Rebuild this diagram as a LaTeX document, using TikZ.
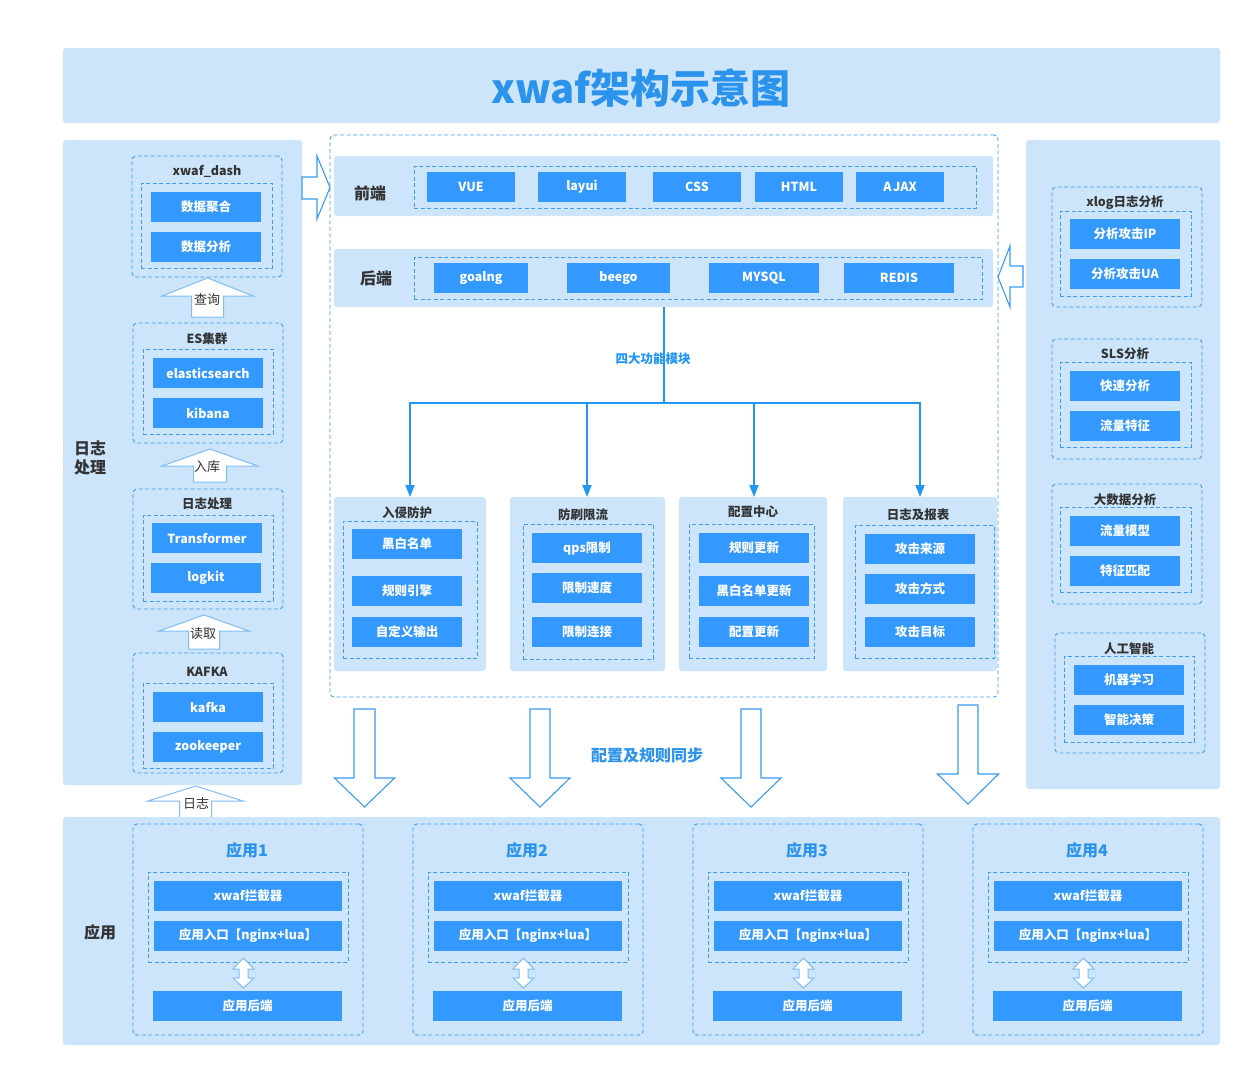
\documentclass[tikz,border=0pt]{standalone}
\usepackage{fontspec}
\setmainfont{Noto Sans CJK SC}
\usetikzlibrary{arrows.meta}
\definecolor{panelc}{HTML}{CCE5FB}
\definecolor{boxc}{HTML}{3399FF}
\definecolor{dashc}{HTML}{3D9CF5}
\definecolor{titlec}{HTML}{2B93EB}
\definecolor{darkc}{HTML}{333333}
\definecolor{arrc}{HTML}{3A9BF2}
\definecolor{arrlc}{HTML}{7DBDF8}
\definecolor{treec}{HTML}{2196F3}
\newcommand\fs[1]{\fontsize{#1}{#1}\selectfont}
\newcommand\rnode[6]{\node[#2,minimum width={(#5)-(#3)},minimum height={(#6)-(#4)},inner sep=0pt,outer sep=0pt] (#1) at ({((#3)+(#5))/2},{((#4)+(#6))/2}) {};}
\newcommand\bb[5]{\node[bbox,minimum width=#4pt] (#1) at (#2,#3) {#5};}
% vertical block arrow: style, cx, tip, base, end, head half width, shaft half width
\newcommand\varr[7]{\draw[#1] (#2,#3) -- ({#2+#6},#4) -- ({#2+#7},#4) -- ({#2+#7},#5) -- ({#2-#7},#5) -- ({#2-#7},#4) -- ({#2-#6},#4) -- cycle;}
% double vertical arrow: cx, tip1, base1, base2, tip2
\newcommand\darr[5]{\draw[hollowl] (#1,#2) -- ({#1+10.5},#3) -- ({#1+4.5},#3) -- ({#1+4.5},#4) -- ({#1+10.5},#4) -- (#1,#5) -- ({#1-10.5},#4) -- ({#1-4.5},#4) -- ({#1-4.5},#3) -- ({#1-10.5},#3) -- cycle;}
\begin{document}
\begin{tikzpicture}[x=1pt,y=-1pt,
  panel/.style={fill=panelc, rounded corners=3pt},
  dgrp/.style={draw=dashc, line width=0.9pt, dash pattern=on 4pt off 2.5pt, rounded corners=4pt},
  dinner/.style={draw=dashc, line width=0.9pt, dash pattern=on 4pt off 2.5pt},
  bbox/.style={fill=boxc, text=white, font=\bfseries\fs{12.5}, inner sep=0pt, minimum height=30pt},
  gtitle/.style={text=darkc, font=\bfseries\fs{12.5}, inner sep=0pt},
  secl/.style={text=darkc, font=\bfseries\fontsize{16}{19}\selectfont, inner sep=0pt, align=left},
  bluel/.style={text=titlec, font=\bfseries\fs{16}, inner sep=0pt},
  blab/.style={text=darkc, font=\fs{13}, inner sep=0pt},
  hollow/.style={draw=arrc, fill=white, line width=1.1pt, line join=miter},
  hollowl/.style={draw=arrlc, fill=white, line width=1pt, line join=miter},
  tree/.style={draw=treec, line width=1.8pt}
]
\fill[white] (0,0) rectangle (1251,1077);
\useasboundingbox (0,0) rectangle (1251,1077);

% title band
\rnode{band}{panel}{63}{48}{1220}{123}
\node[text=titlec, font=\bfseries\fs{40}, inner sep=0pt] (title) at (641,88) {xwaf架构示意图};

% ===== left panel =====
\rnode{leftp}{panel}{63}{140}{302}{785}
\node[secl] (lefttitle) at (90,458) {日志\\处理};

\rnode{g1}{dgrp}{132}{156}{282}{277}
\rnode{g1i}{dinner}{141}{183}{272}{268}
\node[gtitle] (g1t) at (207,171) {xwaf\_dash};
\bb{b11}{206}{207}{110}{数据聚合}
\bb{b12}{206}{247}{110}{数据分析}

\rnode{g2}{dgrp}{133}{323}{283}{443}
\rnode{g2i}{dinner}{143}{349}{273}{434}
\node[gtitle] (g2t) at (207,339) {ES集群};
\bb{b21}{208}{373}{110}{elasticsearch}
\bb{b22}{208}{413}{110}{kibana}

\rnode{g3}{dgrp}{133}{489}{283}{609}
\rnode{g3i}{dinner}{143}{515}{273}{601}
\node[gtitle] (g3t) at (207,504) {日志处理};
\bb{b31}{207}{538}{110}{Transformer}
\bb{b32}{206}{578}{110}{logkit}

\rnode{g4}{dgrp}{133}{653}{283}{773}
\rnode{g4i}{dinner}{143}{683}{273}{768}
\node[gtitle] (g4t) at (207,672) {KAFKA};
\bb{b41}{208}{707}{110}{kafka}
\bb{b42}{208}{747}{110}{zookeeper}

% up arrows with labels
\varr{hollowl}{207.5}{278}{296}{317}{45.5}{16}
\node[blab] (l1) at (207,300) {查询};
\varr{hollowl}{210}{449}{466}{482}{48}{16.5}
\node[blab] (l2) at (207,467) {入库};
\varr{hollowl}{204}{615}{631}{649}{45}{15.5}
\node[blab] (l3) at (203,634) {读取};
\varr{hollowl}{195.5}{786}{801}{819}{47.5}{16}
\node[blab] (l4) at (196,803) {日志};

% ===== center =====
\rnode{center}{dgrp}{330}{135}{998}{697}

\rnode{front}{panel}{334}{156}{993}{216}
\rnode{fronti}{dinner}{414}{166}{976}{208}
\node[secl] (frontl) at (370,193) {前端};
\bb{f1}{471}{187}{88}{VUE}
\bb{f2}{582}{187}{88}{layui}
\bb{f3}{697}{187}{88}{CSS}
\bb{f4}{799}{187}{88}{HTML}
\bb{f5}{900}{187}{88}{A\kern1.5pt JAX}

\rnode{back}{panel}{334}{249}{993}{307}
\rnode{backi}{dinner}{414}{257}{982}{299}
\node[secl] (backl) at (376,278) {后端};
\bb{k1}{481}{278}{94}{goalng}
\bb{k2}{618.5}{278}{103}{beego}
\bb{k3}{764}{278}{110}{MYSQL}
\bb{k4}{899}{278}{110}{REDIS}

% right/left block arrows
\draw[hollow] (302,177) -- (317,177) -- (317,156) -- (330,187.5) -- (317,219) -- (317,199) -- (302,199) -- cycle;
\draw[hollow] (998,277) -- (1010,246) -- (1010,266) -- (1023,266) -- (1023,287) -- (1010,287) -- (1010,307) -- cycle;

% modules
\rnode{m1}{panel}{334}{497}{486}{671}
\rnode{m1i}{dinner}{343}{521}{477}{658}
\node[gtitle] (m1t) at (407,513) {入侵防护};
\bb{m11}{407}{544}{110}{黑白名单}
\bb{m12}{407}{591}{110}{规则引擎}
\bb{m13}{407}{632}{110}{自定义输出}

\rnode{m2}{panel}{510}{497}{665}{671}
\rnode{m2i}{dinner}{523}{524}{653}{659}
\node[gtitle] (m2t) at (583,515) {防刷限流};
\bb{m21}{587}{548}{110}{qps限制}
\bb{m22}{587}{588}{110}{限制速度}
\bb{m23}{587}{632}{110}{限制连接}

\rnode{m3}{panel}{679}{497}{827}{671}
\rnode{m3i}{dinner}{689}{524}{814}{658}
\node[gtitle] (m3t) at (753,512) {配置中心};
\bb{m31}{754}{548}{110}{规则更新}
\bb{m32}{754}{591}{110}{黑白名单更新}
\bb{m33}{754}{632}{110}{配置更新}

\rnode{m4}{panel}{843}{497}{997}{671}
\rnode{m4i}{dinner}{855}{525}{994}{658}
\node[gtitle] (m4t) at (918,515) {日志及报表};
\bb{m41}{920}{549}{110}{攻击来源}
\bb{m42}{920}{589}{110}{攻击方式}
\bb{m43}{920}{632}{110}{攻击目标}

% tree
\node[text=treec, font=\bfseries\fs{12.5}, inner sep=0pt] (treel) at (653,359) {四大功能模块};
\coordinate (junc) at (664,403);
\draw[tree] (back.south -| junc) -- (junc);
\foreach \m/\xx in {m1/410,m2/587,m3/754,m4/920}{
  \draw[tree,-{Triangle[width=9pt,length=12pt]}] (junc) -- (\xx,403) -- (\xx,497);
}

% ===== right panel =====
\rnode{rightp}{panel}{1026}{140}{1220}{789}
\rnode{r1}{dgrp}{1052}{187}{1202}{307}
\rnode{r1i}{dinner}{1060}{211}{1191}{296}
\node[gtitle] (r1t) at (1125,203) {xlog日志分析};
\bb{r11}{1125}{234}{110}{分析攻击IP}
\bb{r12}{1125}{274}{110}{分析攻击UA}

\rnode{r2}{dgrp}{1052}{339}{1202}{459}
\rnode{r2i}{dinner}{1060}{362}{1191}{447}
\node[gtitle] (r2t) at (1125,354) {SLS分析};
\bb{r21}{1125}{386}{110}{快速分析}
\bb{r22}{1125}{426}{110}{流量特征}

\rnode{r3}{dgrp}{1052}{484}{1202}{604}
\rnode{r3i}{dinner}{1060}{507}{1191}{592}
\node[gtitle] (r3t) at (1125,500) {大数据分析};
\bb{r31}{1125}{531}{110}{流量模型}
\bb{r32}{1125}{571}{110}{特征匹配}

\rnode{r4}{dgrp}{1055}{633}{1205}{753}
\rnode{r4i}{dinner}{1064}{656}{1194}{742}
\node[gtitle] (r4t) at (1129,649) {人工智能};
\bb{r41}{1129}{680}{110}{机器学习}
\bb{r42}{1129}{720}{110}{智能决策}

% ===== sync arrows =====
\varr{hollow}{364.5}{807}{778}{709}{30}{10.5}
\varr{hollow}{540}{807}{778}{709}{30}{10}
\varr{hollow}{751}{807}{778}{709}{30}{10}
\varr{hollow}{968}{804}{774}{705}{30.5}{10}
\node[bluel] (syncl) at (647,755) {配置及规则同步};

% ===== bottom apps =====
\rnode{bottom}{panel}{63}{817}{1220}{1045}
\node[secl] (appl) at (100,932) {应用};
\foreach \k in {1,2,3,4}{
  \pgfmathsetmacro\dx{280*(\k-1)}
  \rnode{a\k}{dgrp}{133+\dx}{824}{363+\dx}{1035}
  \rnode{a\k i}{dinner}{148+\dx}{872}{348+\dx}{962}
  \node[bluel] (a\k t) at (247+\dx,850) {应用\k};
  \node[bbox,minimum width=188pt] (a\k x) at (248+\dx,896) {xwaf拦截器};
  \node[bbox,minimum width=188pt] (a\k n) at (248+\dx,936) {应用入口【nginx+lua】};
  \darr{243.5+\dx}{958}{969}{978}{988}
  \node[bbox,minimum width=189pt] (a\k b) at (247.5+\dx,1006) {应用后端};
}
\end{tikzpicture}
\end{document}
